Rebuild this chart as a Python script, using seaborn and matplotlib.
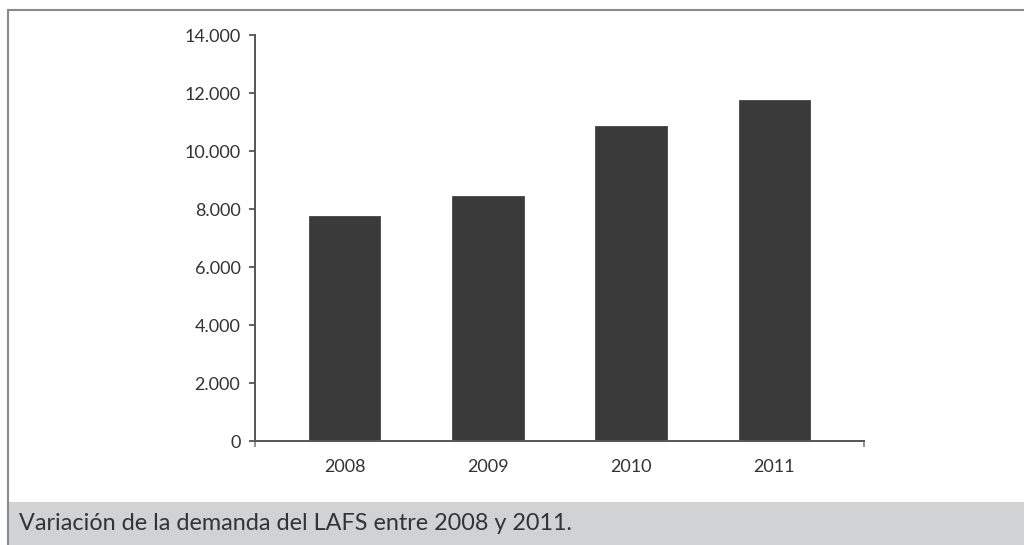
import matplotlib
matplotlib.use("Agg")
import matplotlib.pyplot as plt
from matplotlib.lines import Line2D
from matplotlib.patches import Rectangle
import seaborn as sns
import pandas as pd

years = ["2008", "2009", "2010", "2011"]
demand = [7750, 8450, 10850, 11750]
y_ticks = [0, 2000, 4000, 6000, 8000, 10000, 12000, 14000]
y_tick_labels = ["0", "2.000", "4.000", "6.000", "8.000", "10.000", "12.000", "14.000"]
caption = "Variación de la demanda del LAFS entre 2008 y 2011."

sns.set_theme(style="white")
plt.rcParams["font.family"] = ["Lato", "DejaVu Sans"]

W, H = 1024, 545
fig = plt.figure(figsize=(W / 100, H / 100), dpi=100)
ax = fig.add_axes([255 / W, 1 - 441 / H, (864 - 255) / W, (441 - 35) / H])

df = pd.DataFrame({"year": years, "demand": demand})
sns.barplot(data=df, x="year", y="demand", color="#3a3a3a", saturation=1,
            width=0.5, edgecolor="#444444", linewidth=0.6, ax=ax)

ax.set_xlim(-0.625, 3.625)
ax.set_ylim(0, 14000)
ax.set_yticks(y_ticks)
ax.set_yticklabels(y_tick_labels)
ax.set_xlabel("")
ax.set_ylabel("")

for side in ("top", "right"):
    ax.spines[side].set_visible(False)
for side in ("left", "bottom"):
    ax.spines[side].set_color("#555555")
    ax.spines[side].set_linewidth(1.4)

ax.tick_params(axis="y", which="major", left=True, direction="out", length=4.5,
               width=1.3, color="#555555", pad=6, labelsize=13, labelcolor="#333333")
ax.tick_params(axis="x", which="major", length=0, pad=13, labelsize=13,
               labelcolor="#333333")
ax.set_xticks([-0.625, 3.625], minor=True)
ax.tick_params(axis="x", which="minor", bottom=True, direction="out", length=4.5,
               width=1.3, color="#888888")

# page frame and caption band
fig.add_artist(Line2D([8 / W, 1], [1 - 10 / H, 1 - 10 / H], color="#8a8a8a", lw=1.5))
fig.add_artist(Line2D([8 / W, 8 / W], [0, 1 - 10 / H], color="#8a8a8a", lw=1.5))
fig.add_artist(Rectangle((8.8 / W, 0), 1 - 8.8 / W, (H - 502) / H,
                         transform=fig.transFigure, facecolor="#d1d2d4",
                         edgecolor="none", zorder=0))
fig.text(19 / W, 1 - 523 / H, caption, fontsize=16.8, color="#333333",
         ha="left", va="center")

fig.savefig("out.png", dpi=100)
